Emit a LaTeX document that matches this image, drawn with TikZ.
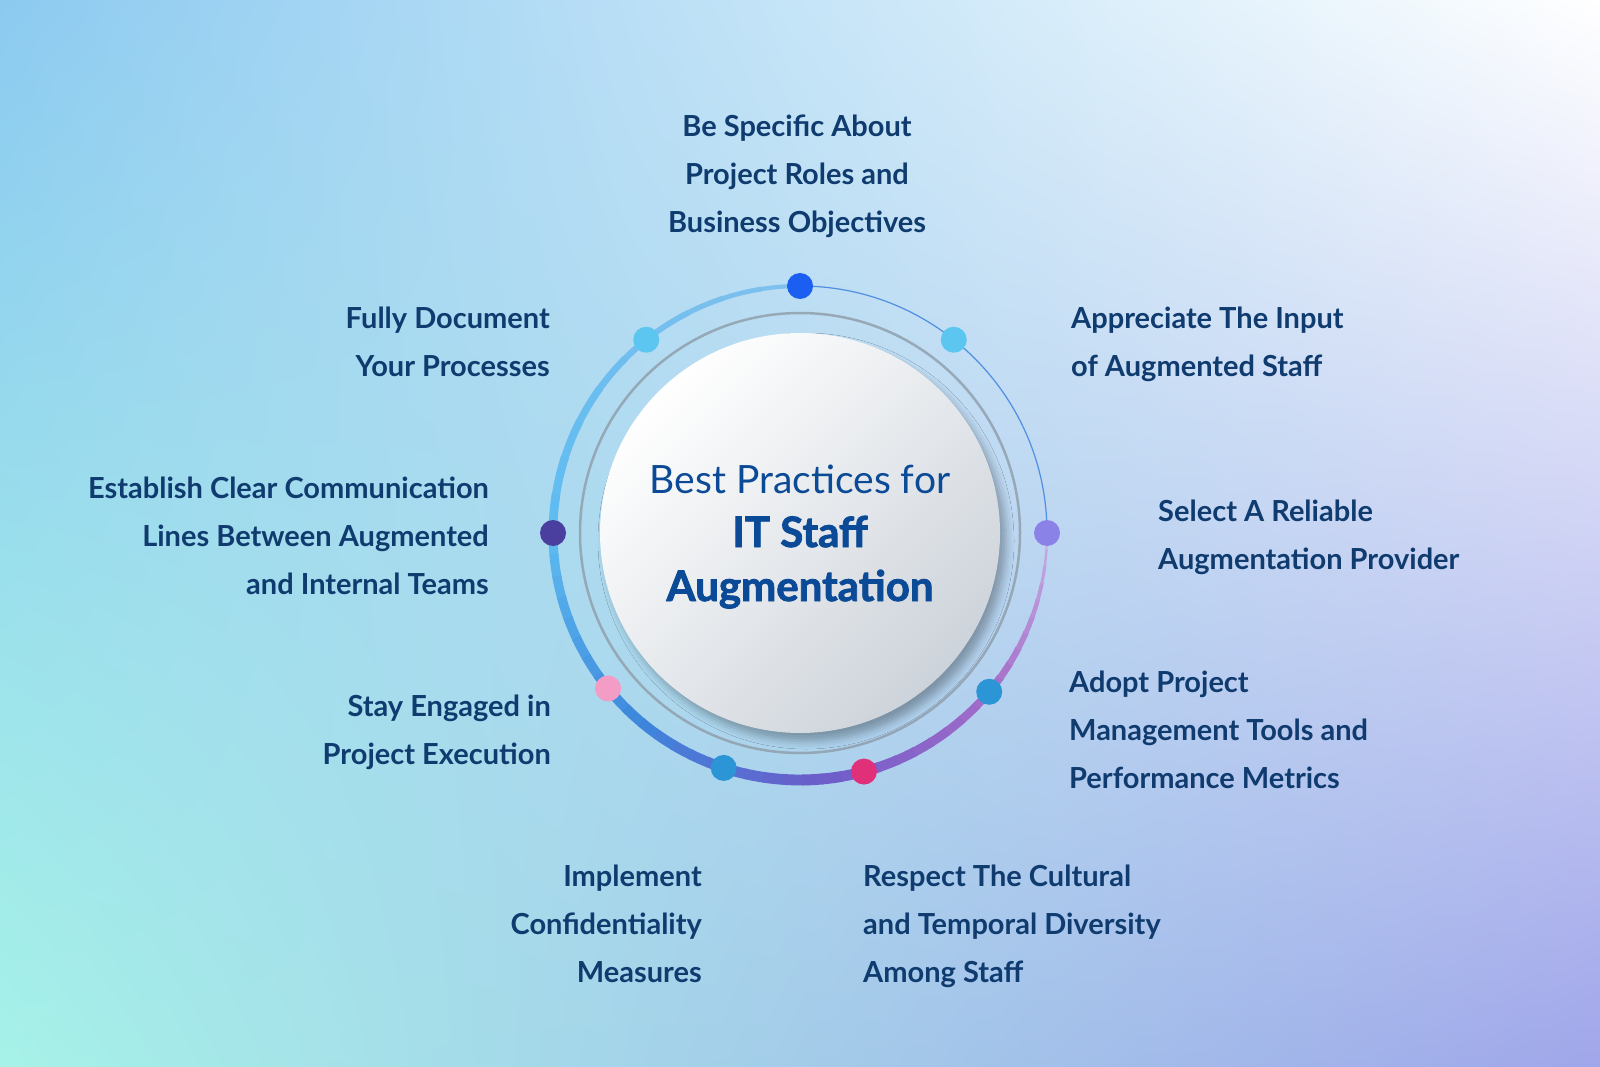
\documentclass[tikz,border=0pt]{standalone}
\usepackage{fontspec}
\setmainfont{Lato}
\newfontfamily\heavyfont{Lato}[BoldFeatures={FakeBold=2}]
\usetikzlibrary{shadings,shadows.blur}
\definecolor{bgtl}{HTML}{8CCAF0}
\definecolor{bgtr}{HTML}{FFFFFF}
\definecolor{bgbl}{HTML}{A6F2E8}
\definecolor{bgbr}{HTML}{A0A6EA}
\definecolor{navy}{HTML}{0F3B6F}
\definecolor{titleblue}{HTML}{0B4A96}
\definecolor{hubgrey}{HTML}{CDD3DA}
\definecolor{innergrey}{HTML}{8E9CA8}
\definecolor{ringthin}{HTML}{4F8FE0}
\definecolor{ringA}{HTML}{80C0EE}
\definecolor{ringB}{HTML}{5EBCF0}
\definecolor{ringC}{HTML}{3D86DC}
\definecolor{ringD}{HTML}{6C5CC9}
\definecolor{ringE}{HTML}{A46CC8}
\definecolor{ringF}{HTML}{C8B0E4}
\definecolor{dotblue}{HTML}{1A5EF2}
\definecolor{dotsky}{HTML}{5CC6F0}
\definecolor{dotindigo}{HTML}{4A3F9E}
\definecolor{dotlilac}{HTML}{8A82E6}
\definecolor{dotocean}{HTML}{2B95D6}
\definecolor{dotmagenta}{HTML}{E0307A}
\definecolor{dotpink}{HTML}{F29CC6}
\tikzset{
my label/.style={font=\fontsize{29pt}{48pt}\selectfont\bfseries,text=navy,inner sep=0pt},
my left/.style={my label,align=right,anchor=base east},
my right/.style={my label,align=left,anchor=base west},
my top/.style={my label,align=center,anchor=base},
my dot/.style={circle,minimum size=26pt,inner sep=0pt},
my hub/.style={circle,minimum size=400pt,inner sep=0pt,
  top color=white,bottom color=hubgrey,shading angle=45,
  blur shadow={shadow xshift=6pt,shadow yshift=-8pt,shadow opacity=30,shadow blur radius=8pt}},
my title/.style={text=titleblue,inner sep=0pt,anchor=base},
}
\begin{document}
\begin{tikzpicture}[x=1pt,y=-1pt]
\useasboundingbox (0,0) rectangle (1600,1067);
\shade[upper left=bgtl,upper right=bgtr,lower left=bgbl,lower right=bgbr] (0,0) rectangle (1600,1067);

\begin{scope}[shift={(800,533)},y=1pt]
  % ring: thin on the upper right, thick elsewhere
  \draw[ringthin,line width=1.2pt] (0:247) arc[start angle=0,end angle=90,radius=247];
  \foreach \sa/\ea/\ca/\cb/\wa/\wb in {90/180/ringA/ringB/4/9,180/230/ringB/ringC/9/10,
      230/275/ringC/ringD/10/11,275/320/ringD/ringE/11/8,320/360/ringE/ringF/8/1.5}{
    \foreach \k in {0,...,9}{
      \pgfmathsetmacro\angA{\sa+(\ea-\sa)*\k/10}
      \pgfmathsetmacro\angB{\angA+(\ea-\sa)/10+0.4}
      \pgfmathsetmacro\wd{\wa+(\wb-\wa)*(\k+0.5)/10}
      \pgfmathsetmacro\pc{95-10*\k}
      \draw[line width=\wd pt,draw=\ca!\pc!\cb] (\angA:247) arc[start angle=\angA,end angle=\angB,radius=247];
    }
  }
  \draw[innergrey,line width=2.5pt,opacity=.8] (0,0) circle[radius=220];
  \node[my hub] (hub) at (0,0) {};

  \node[my dot,fill=dotblue]    (d1) at (90:247)  {};
  \node[my dot,fill=dotsky]     (d2) at (51.5:247) {};
  \node[my dot,fill=dotlilac]   (d3) at (0:247)   {};
  \node[my dot,fill=dotocean]   (d4) at (-40:247) {};
  \node[my dot,fill=dotmagenta] (d5) at (-75:247) {};
  \node[my dot,fill=dotocean]   (d6) at (-108:247) {};
  \node[my dot,fill=dotpink]    (d7) at (219:247) {};
  \node[my dot,fill=dotindigo]  (d8) at (180:247) {};
  \node[my dot,fill=dotsky]     (d9) at (128.5:247) {};
\end{scope}

\node[my title,font=\fontsize{39pt}{39pt}\selectfont] (t1) at (800,493) {Best Practices for};
\node[my title,font=\fontsize{42pt}{42pt}\selectfont\heavyfont\bfseries] (t2) at (800,547) {IT Staff};
\node[my title,font=\fontsize{42pt}{42pt}\selectfont\heavyfont\bfseries] (t3) at (800,601) {Augmentation};

\node[my top]   (specific)  at (797,233) {Be Specific About\\Project Roles and\\Business Objectives};
\node[my right] (input)     at (1071,376) {Appreciate The Input\\of Augmented Staff};
\node[my right] (provider)  at (1158,569) {Select A Reliable\\Augmentation Provider};
\node[my right] (tools)     at (1069,788) {Adopt Project\\Management Tools and\\Performance Metrics};
\node[my right] (diversity) at (863,982) {Respect The Cultural\\and Temporal Diversity\\Among Staff};
\node[my left]  (confid)    at (702,982) {Implement\\Confidentiality\\Measures};
\node[my left]  (engaged)   at (551,764) {Stay Engaged in\\Project Execution};
\node[my left]  (lines)     at (489,594) {Establish Clear Communication\\Lines Between Augmented\\and Internal Teams};
\node[my left]  (document)  at (550,376) {Fully Document\\Your Processes};
\end{tikzpicture}
\end{document}
